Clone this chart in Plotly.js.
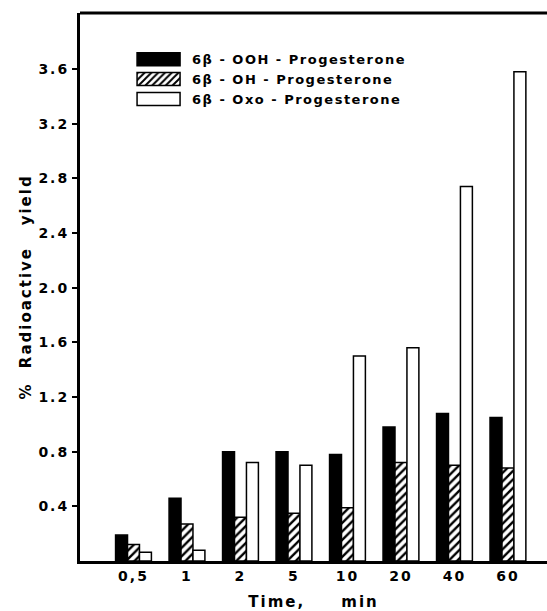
<!DOCTYPE html>
<html>
<head>
<meta charset="utf-8">
<script src="https://cdn.plot.ly/plotly-3.0.1.min.js"></script>
<style>
html,body{margin:0;padding:0;background:#fff;overflow:hidden}
#chart .xtick text, #chart .ytick text {letter-spacing: 2px;}
#chart .legendtext {letter-spacing: 1.5px;}
#chart .g-xtitle text, #chart .g-ytitle text {letter-spacing: 2px;}
</style>
</head>
<body>
<div id="chart" style="width:547px;height:611px"></div>
<script>
const categories = ["0,5", "1", "2", "5", "10", "20", "40", "60"];
const seriesNames = ["6β - OOH - Progesterone", "6β - OH - Progesterone", "6β - Oxo - Progesterone"];
const oohValues = [0.19, 0.46, 0.80, 0.80, 0.78, 0.98, 1.08, 1.05];
const ohValues  = [0.12, 0.27, 0.32, 0.35, 0.39, 0.72, 0.70, 0.68];
const oxoValues = [0.064, 0.078, 0.72, 0.70, 1.50, 1.56, 2.74, 3.58];
const yTickVals = [0.4, 0.8, 1.2, 1.6, 2.0, 2.4, 2.8, 3.2, 3.6];
const yTickText = ["0.4", "0.8", "1.2", "1.6", "2.0", "2.4", "2.8", "3.2", "3.6"];

const fontFam = "DejaVu Sans, Liberation Sans, sans-serif";
const traces = [
  {type: "bar", name: seriesNames[0], x: categories, y: oohValues,
   marker: {color: "#000", line: {color: "#000", width: 1.5}}},
  {type: "bar", name: seriesNames[1], x: categories, y: ohValues,
   marker: {color: "#fff", line: {color: "#000", width: 1.5},
            pattern: {shape: "/", fgcolor: "#000", bgcolor: "#fff", size: 6, solidity: 0.4}}},
  {type: "bar", name: seriesNames[2], x: categories, y: oxoValues,
   marker: {color: "#fff", line: {color: "#000", width: 1.5}}}
];

const layout = {
  width: 547, height: 611,
  margin: {l: 80, r: 0, t: 13, b: 50},
  paper_bgcolor: "#fff", plot_bgcolor: "#fff",
  barmode: "group", bargap: 0.33, bargroupgap: 0,
  font: {family: fontFam, color: "#000", size: 13, weight: "bold"},
  showlegend: true,
  legend: {x: 0.0965, y: 0.943, xanchor: "left", yanchor: "top",
           bgcolor: "rgba(0,0,0,0)", font: {size: 13, family: fontFam, weight: "bold"},
           itemwidth: 57},
  xaxis: {type: "category", range: [-1.0, 7.73], showline: true, linecolor: "#000", linewidth: 3,
          ticks: "", showgrid: false, zeroline: false,
          tickfont: {size: 14, family: fontFam, weight: "bold"},
          title: {text: "Time,     min", font: {size: 15, family: fontFam, weight: "bold"}, standoff: 17}},
  yaxis: {range: [0, 4.01], showline: true, linecolor: "#000", linewidth: 3,
          ticks: "outside", ticklen: 5, tickwidth: 2, tickcolor: "#000",
          tickvals: yTickVals, ticktext: yTickText, showgrid: false, zeroline: false,
          tickfont: {size: 14, family: fontFam, weight: "bold"},
          title: {text: "%  Radioactive   yield", font: {size: 15, family: fontFam, weight: "bold"}, standoff: 10}},
  shapes: [{type: "line", xref: "paper", yref: "paper", x0: 0, x1: 1, y0: 1, y1: 1,
            line: {color: "#000", width: 3}}]
};

Plotly.newPlot("chart", traces, layout, {displayModeBar: false, staticPlot: true}).then(function (gd) {
  gd.querySelectorAll(".legend .legendpoints path").forEach(function (p) {
    p.setAttribute("d", "M21.5,6.5H-21.5V-6.5H21.5Z");
  });
  gd.querySelectorAll(".legend [clip-path]").forEach(function (el) {
    el.removeAttribute("clip-path");
  });
});
</script>
</body>
</html>
